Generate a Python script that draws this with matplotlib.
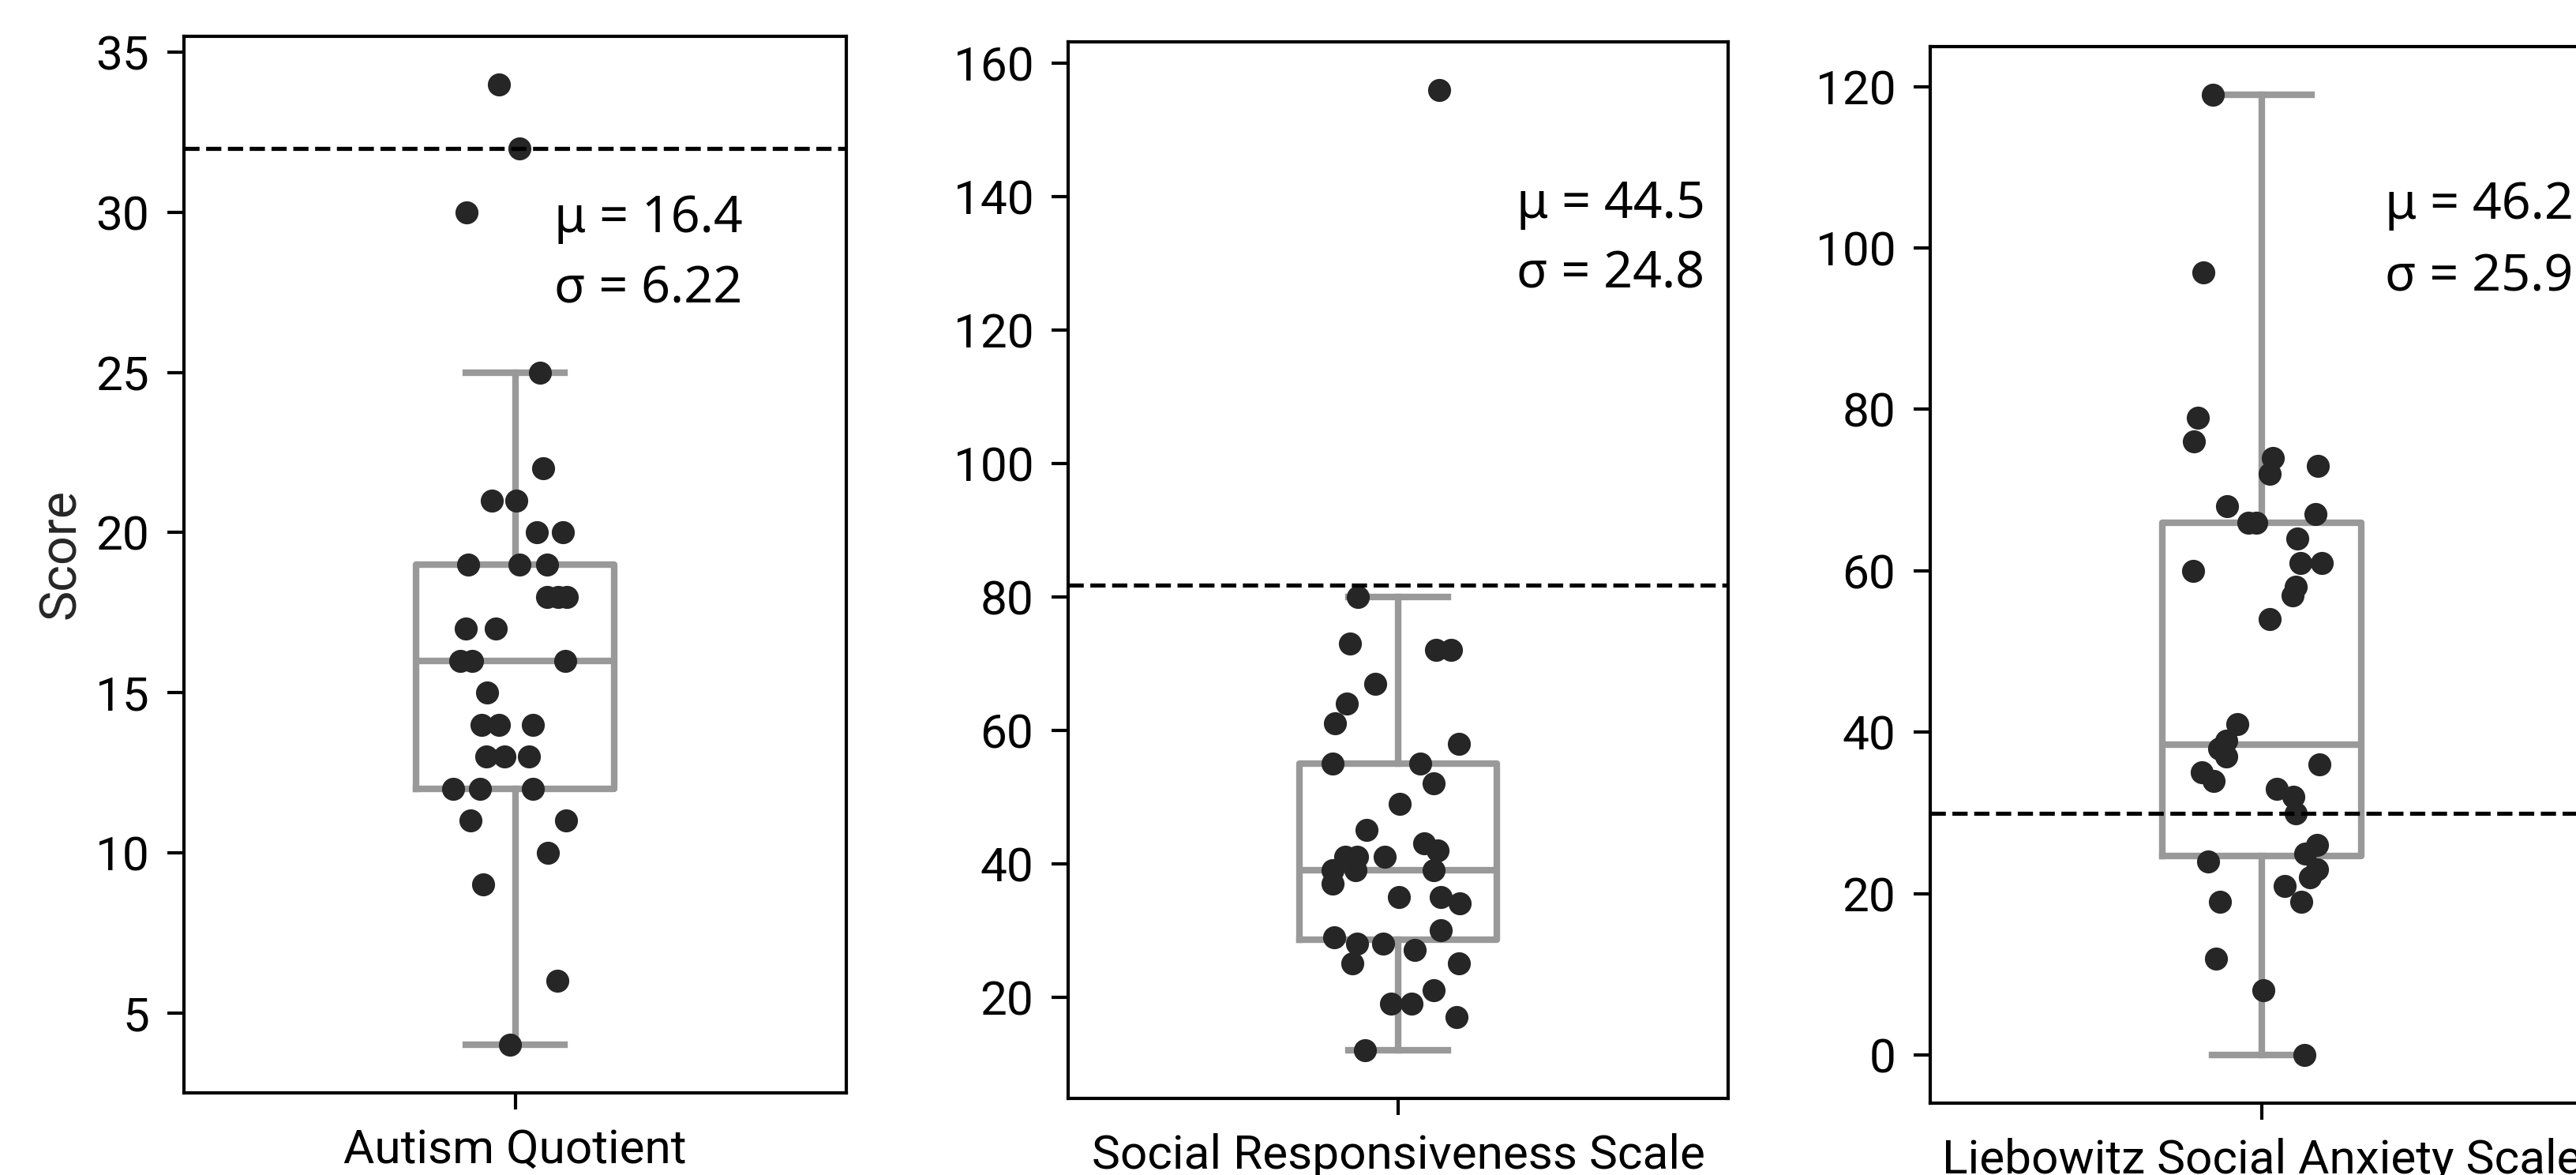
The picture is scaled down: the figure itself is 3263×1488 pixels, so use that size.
import matplotlib
matplotlib.use("Agg")
import matplotlib.pyplot as plt

plt.rcParams['font.family'] = ['Roboto', 'DejaVu Sans']

# scores, one list per questionnaire
aq_values = [34, 32, 30, 25, 22, 21, 21, 20, 20, 19, 19, 19, 18, 18, 18, 17, 17,
             16, 16, 16, 15, 14, 14, 14, 13, 13, 13, 12, 12, 12, 11, 11, 10, 9, 6, 4]
aq_jitter = [-0.025, 0.006, -0.073, 0.038, 0.042, -0.035, 0.002, 0.033, 0.072,
             -0.071, 0.007, 0.048, 0.048, 0.065, 0.078, -0.075, -0.029, -0.083,
             -0.065, 0.076, -0.042, -0.051, -0.024, 0.027, -0.043, -0.016, 0.021,
             -0.094, -0.053, 0.027, -0.067, 0.077, 0.050, -0.048, 0.064, -0.008]

srs_values = [156, 80, 73, 72, 72, 67, 64, 61, 58, 55, 55, 52, 49, 45, 43, 42, 41,
              41, 41, 39, 39, 39, 37, 35, 35, 34, 30, 29, 28, 28, 27, 25, 25, 21,
              19, 19, 17, 12]
srs_jitter = [0.062, -0.061, -0.073, 0.057, 0.080, -0.035, -0.078, -0.096, 0.092,
              -0.099, 0.033, 0.054, 0.002, -0.048, 0.039, 0.060, -0.080, -0.062,
              -0.020, -0.099, -0.065, 0.054, -0.099, 0.001, 0.065, 0.093, 0.065,
              -0.097, -0.062, -0.023, 0.025, -0.069, 0.092, 0.054, -0.011, 0.020,
              0.089, -0.050]

lsas_values = [119, 97, 79, 76, 74, 73, 72, 68, 67, 66, 66, 64, 61, 61, 60, 58, 57,
               54, 41, 39, 38, 37, 36, 35, 34, 33, 32, 30, 26, 25, 24, 23, 22, 21,
               19, 19, 12, 8, 0]
lsas_jitter = [-0.074, -0.088, -0.097, -0.102, 0.017, 0.085, 0.012, -0.052, 0.081,
               -0.020, -0.008, 0.054, 0.058, 0.091, -0.104, 0.051, 0.047, 0.012,
               -0.037, -0.054, -0.064, -0.053, 0.087, -0.091, -0.073, 0.023, 0.048,
               0.051, 0.083, 0.065, -0.081, 0.083, 0.073, 0.035, 0.059, -0.063,
               -0.069, 0.002, 0.064]

# box summaries [whislo, q1, med, q3, whishi]
aq_box = [4, 12, 16, 19, 25]
srs_box = [12, 28.6, 39, 55, 80]
lsas_box = [0, 24.7, 38.5, 66, 119]

names = ["Autism Quotient", "Social Responsiveness Scale", "Liebowitz Social Anxiety Scale"]
cutoffs = [32, 81.7, 30]
means = ["16.4", "44.5", "46.2"]
stds = ["6.22", "24.8", "25.9"]

values = [aq_values, srs_values, lsas_values]
jitters = [aq_jitter, srs_jitter, lsas_jitter]
boxes = [aq_box, srs_box, lsas_box]

W, H = 3263, 1488
fig = plt.figure(figsize=(W / 300, H / 300), dpi=300)

# axes placement in pixels: left, top, width, height
panels = [(233, 46, 839, 1338), (1353, 53, 836, 1338), (2445, 59, 840, 1338)]
text_pos = [(0.559, 0.815, 0.748), (0.679, 0.833, 0.767), (0.686, 0.837, 0.769)]

box_col = '#999999'
for k in range(3):
    l, t, w, h = panels[k]
    ax = fig.add_axes([l / W, 1 - (t + h) / H, w / W, h / H])
    b = boxes[k]
    stats = [dict(whislo=b[0], q1=b[1], med=b[2], q3=b[3], whishi=b[4], fliers=[])]
    ax.bxp(stats, positions=[0], widths=0.3, capwidths=0.15, showfliers=False,
           boxprops=dict(color=box_col, lw=2),
           whiskerprops=dict(color=box_col, lw=2),
           capprops=dict(color=box_col, lw=2),
           medianprops=dict(color=box_col, lw=2))
    ax.scatter(jitters[k], values[k], s=49, color='#262626', linewidths=0, zorder=3)
    ax.axhline(cutoffs[k], color='k', ls='--', lw=1.25, zorder=4)
    ax.set_xlim(-0.5, 0.5)
    ax.set_xticks([0])
    ax.set_xticklabels([names[k]])
    ax.tick_params(labelsize=14.5, length=5, width=1.0, pad=5.5, colors='k')
    for s in ax.spines.values():
        s.set_linewidth(1.0)
    tx, ty1, ty2 = text_pos[k]
    ax.text(tx, ty1, "μ = " + means[k], transform=ax.transAxes, fontsize=15.5,
            family='Noto Sans', va='baseline')
    ax.text(tx, ty2, "σ = " + stds[k], transform=ax.transAxes, fontsize=15.5,
            family='Noto Sans', va='baseline')
    if k == 0:
        ax.set_ylabel("Score", fontsize=15.5, color='#262626')
        ax.yaxis.set_label_coords(-0.149, 0.51)

fig.savefig("out.png", dpi=300)
